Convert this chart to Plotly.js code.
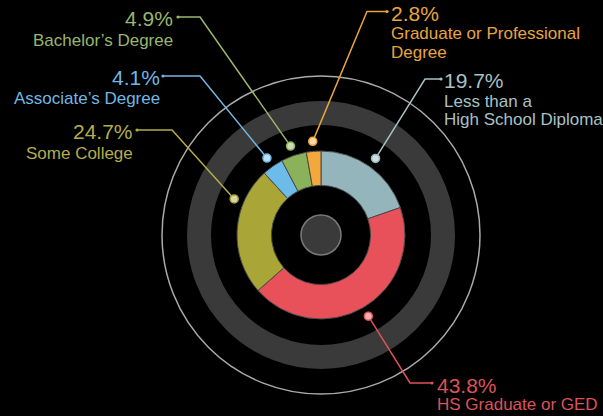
<!DOCTYPE html>
<html>
<head>
<meta charset="utf-8">
<script src="https://cdn.plot.ly/plotly-3.0.1.min.js"></script>
<style>html,body{margin:0;padding:0;background:#000;}#chart{width:603px;height:416px;}</style>
</head>
<body>
<div id="chart"></div>
<script>
// ---- data ----
var categories = ["Less than a High School Diploma", "HS Graduate or GED", "Some College", "Associate's Degree", "Bachelor's Degree", "Graduate or Professional Degree"];
var values = [19.7, 43.8, 24.7, 4.1, 4.9, 2.8];
var pctLabels = ["19.7%", "43.8%", "24.7%", "4.1%", "4.9%", "2.8%"];
var labelLines = [["Less than a", "High School Diploma"], ["HS Graduate or GED"], ["Some College"], ["Associate\u2019s Degree"], ["Bachelor\u2019s Degree"], ["Graduate or Professional", "Degree"]];
var sliceColors = ["#93b5bb", "#e8515a", "#a9a536", "#6cbbe8", "#8bb25a", "#f2a83a"];
var textColors = ["#a9c1c5", "#dc525a", "#b3ae4a", "#73b7e3", "#99b66c", "#e8a53f"];

// ---- geometry (pixels) ----
var W = 603, H = 416;
var CX = 321, CY = 235, R = 84;
function px(x) { return x / W; }
function py(y) { return 1 - y / H; }

// callout layout: angle offset (deg) for dot, elbow, end, text side & positions
var callouts = [
  {off: 0,   elbow: [425, 79],  end: [441, 79],  side: "left",  tx: 442, pctY: 80,  lineY: [101, 119]},
  {off: 0,   elbow: [410, 383], end: [432, 383], side: "left",  tx: 435, pctY: 385, lineY: [404]},
  {off: 19.5,elbow: [172, 130], end: [137, 130], side: "right", tx: 135, pctY: 131, lineY: [153]},
  {off: 0,   elbow: [200, 76],  end: [163, 76],  side: "right", tx: 162, pctY: 77,  lineY: [99]},
  {off: 0,   elbow: [200, 17],  end: [178, 17],  side: "right", tx: 175, pctY: 19,  lineY: [40]},
  {off: 0,   elbow: [367, 11.5],end: [387, 11.5],side: "left",  tx: 389, pctY: 13,  lineY: [33, 52]}
];

function lighten(hex, t) {
  var r = parseInt(hex.substr(1,2),16), g = parseInt(hex.substr(3,2),16), b = parseInt(hex.substr(5,2),16);
  r = Math.round(r + (255 - r) * t); g = Math.round(g + (255 - g) * t); b = Math.round(b + (255 - b) * t);
  return "rgb(" + r + "," + g + "," + b + ")";
}
function circle(cx, cy, r, opts) {
  var s = {type: "circle", xref: "paper", yref: "paper",
    x0: px(cx - r), x1: px(cx + r), y0: py(cy + r), y1: py(cy - r)};
  for (var k in opts) s[k] = opts[k];
  return s;
}

var shapes = [];
// outer thin circle and thick ring
shapes.push(circle(CX, CY, 159, {line: {color: "#aaaaaa", width: 1.5}, fillcolor: "rgba(0,0,0,0)", layer: "below"}));
shapes.push(circle(CX, CY, 122, {line: {color: "#3a3a3a", width: 24}, fillcolor: "rgba(0,0,0,0)", layer: "below"}));
// center disc
shapes.push(circle(CX, CY, 20, {line: {color: "#7a7a7a", width: 1.5}, fillcolor: "#3a3a3a", layer: "above"}));

var annotations = [];
var total = values.reduce(function (a, b) { return a + b; }, 0);
var cum = 0;
for (var i = 0; i < values.length; i++) {
  var mid = (cum + values[i] / 2) / total * 360 + callouts[i].off;
  cum += values[i];
  var a = mid * Math.PI / 180;
  var dx = CX + 94 * Math.sin(a), dy = CY - 94 * Math.cos(a);
  var c = callouts[i];
  var col = textColors[i];
  shapes.push({type: "path", xref: "paper", yref: "paper", layer: "above",
    path: "M" + px(dx) + "," + py(dy) + " L" + px(c.elbow[0]) + "," + py(c.elbow[1]) + " L" + px(c.end[0]) + "," + py(c.end[1]),
    line: {color: col, width: 1.5}});
  shapes.push(circle(c.end[0], c.end[1], 1.6, {line: {color: col, width: 0}, fillcolor: col, layer: "above"}));
  shapes.push(circle(dx, dy, 4, {line: {color: sliceColors[i], width: 1.5}, fillcolor: lighten(sliceColors[i], 0.55), layer: "above"}));

  annotations.push({xref: "paper", yref: "paper", x: px(c.tx), y: py(c.pctY), xanchor: c.side, yanchor: "middle",
    text: pctLabels[i], showarrow: false, font: {family: "Liberation Sans, Arial, sans-serif", size: 21, color: col}});
  for (var j = 0; j < labelLines[i].length; j++) {
    annotations.push({xref: "paper", yref: "paper", x: px(c.tx), y: py(c.lineY[j]), xanchor: c.side, yanchor: "middle",
      text: labelLines[i][j], showarrow: false, font: {family: "Liberation Sans, Arial, sans-serif", size: 17, color: col}});
  }
}

var trace = {
  type: "pie",
  labels: categories,
  values: values,
  sort: false,
  direction: "clockwise",
  rotation: 0,
  hole: 0.59,
  textinfo: "none",
  hoverinfo: "label+percent",
  showlegend: false,
  marker: {colors: sliceColors, line: {color: "#4a4a4a", width: 1}},
  domain: {x: [px(CX - R), px(CX + R)], y: [py(CY + R), py(CY - R)]}
};

var layout = {
  width: W, height: H, autosize: false,
  margin: {l: 0, r: 0, t: 0, b: 0, pad: 0},
  paper_bgcolor: "#000", plot_bgcolor: "#000",
  shapes: shapes,
  annotations: annotations,
  showlegend: false
};

Plotly.newPlot("chart", [trace], layout, {displayModeBar: false, staticPlot: true});
</script>
</body>
</html>
